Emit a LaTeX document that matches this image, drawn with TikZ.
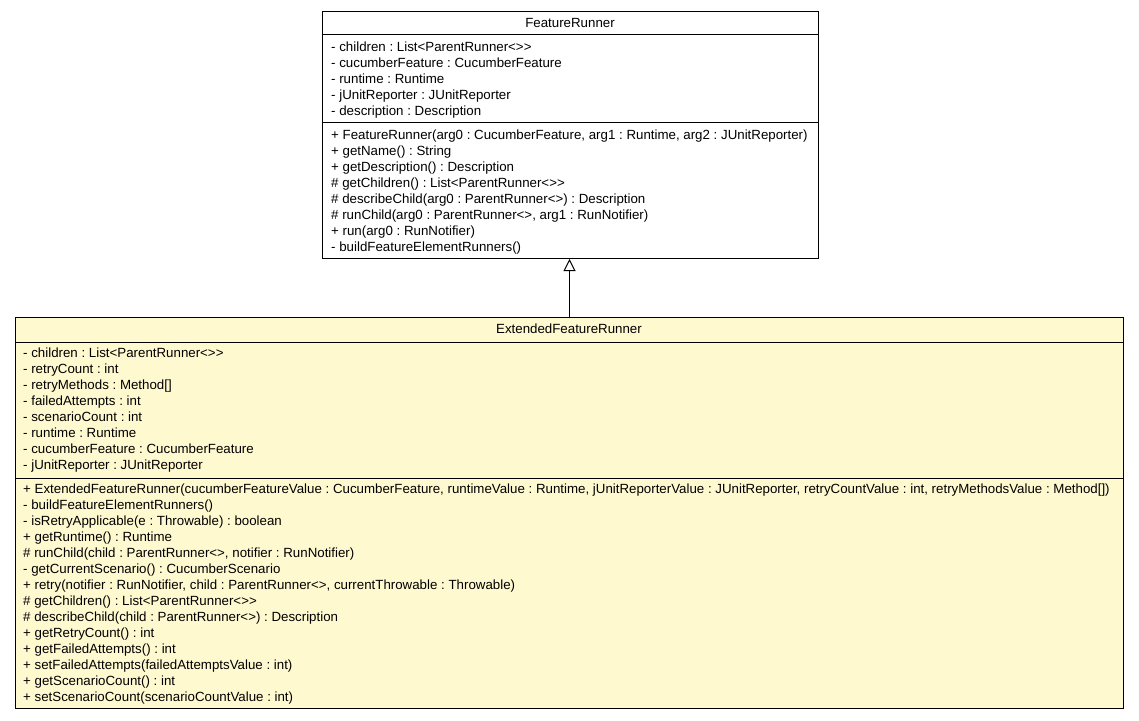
\documentclass[tikz,border=0pt]{standalone}
\usepackage{fontspec}
\setmainfont{Liberation Sans}[Ligatures=TeXOff]
\usetikzlibrary{arrows.meta}
\definecolor{classfill}{RGB}{255,249,208}
\frenchspacing
\begin{document}
\begin{tikzpicture}[x=1pt,y=-1pt,
  umlbox/.style={draw=black, line width=1pt, rectangle, inner sep=0pt, anchor=north west},
  member/.style={anchor=base west, inner sep=0pt, font=\fontsize{13.3}{15}\selectfont},
  classname/.style={anchor=base, inner sep=0pt, font=\fontsize{13.3}{15}\selectfont},
  sepline/.style={draw=black, line width=1pt},
  generalization/.style={draw=black, line width=1pt, -{Triangle[open, length=12pt, width=12pt]}}]
\useasboundingbox (0,0) rectangle (1139,720);

% ---- FeatureRunner ----
\node[umlbox, fill=white, minimum width=496pt, minimum height=247.5pt] (fr) at (322,10.5) {};
\draw[sepline] (322,34) -- (818,34);
\draw[sepline] (322,122.5) -- (818,122.5);
\node[classname] (frname) at (570,27.5) {FeatureRunner};
\foreach \t [count=\i from 0] in {
  {- children : List<ParentRunner<>>},
  {- cucumberFeature : CucumberFeature},
  {- runtime : Runtime},
  {- jUnitReporter : JUnitReporter},
  {- description : Description}}
  \node[member] (fra\i) at (331,51.5+16*\i) {\t};
\foreach \t [count=\i from 0] in {
  {+ FeatureRunner(arg0 : CucumberFeature, arg1 : Runtime, arg2 : JUnitReporter)},
  {+ getName() : String},
  {+ getDescription() : Description},
  {\# getChildren() : List<ParentRunner<>>},
  {\# describeChild(arg0 : ParentRunner<>) : Description},
  {\# runChild(arg0 : ParentRunner<>, arg1 : RunNotifier)},
  {+ run(arg0 : RunNotifier)},
  {- buildFeatureElementRunners()}}
  \node[member] (frm\i) at (331,139.5+16*\i) {\t};

% ---- ExtendedFeatureRunner ----
\node[umlbox, fill=classfill, minimum width=1108pt, minimum height=391pt] (ext) at (15,317) {};
\draw[sepline] (15,342) -- (1123,342);
\draw[sepline] (15,478) -- (1123,478);
\node[classname] (extname) at (569,333.5) {ExtendedFeatureRunner};
\foreach \t [count=\i from 0] in {
  {- children : List<ParentRunner<>>},
  {- retryCount : int},
  {- retryMethods : Method[]},
  {- failedAttempts : int},
  {- scenarioCount : int},
  {- runtime : Runtime},
  {- cucumberFeature : CucumberFeature},
  {- jUnitReporter : JUnitReporter}}
  \node[member] (exa\i) at (23,357.5+16*\i) {\t};
\foreach \t [count=\i from 0] in {
  {+ ExtendedFeatureRunner(cucumberFeatureValue : CucumberFeature, runtimeValue : Runtime, jUnitReporterValue : JUnitReporter, retryCountValue : int, retryMethodsValue : Method[])},
  {- buildFeatureElementRunners()},
  {- isRetryApplicable(e : Throwable) : boolean},
  {+ getRuntime() : Runtime},
  {\# runChild(child : ParentRunner<>, notifier : RunNotifier)},
  {- getCurrentScenario() : CucumberScenario},
  {+ retry(notifier : RunNotifier, child : ParentRunner<>, currentThrowable : Throwable)},
  {\# getChildren() : List<ParentRunner<>>},
  {\# describeChild(child : ParentRunner<>) : Description},
  {+ getRetryCount() : int},
  {+ getFailedAttempts() : int},
  {+ setFailedAttempts(failedAttemptsValue : int)},
  {+ getScenarioCount() : int},
  {+ setScenarioCount(scenarioCountValue : int)}}
  \node[member] (exm\i) at (23,493.5+16*\i) {\t};

% ---- generalization ----
\draw[generalization] (ext.north) -- (ext.north |- fr.south);
\end{tikzpicture}
\end{document}
